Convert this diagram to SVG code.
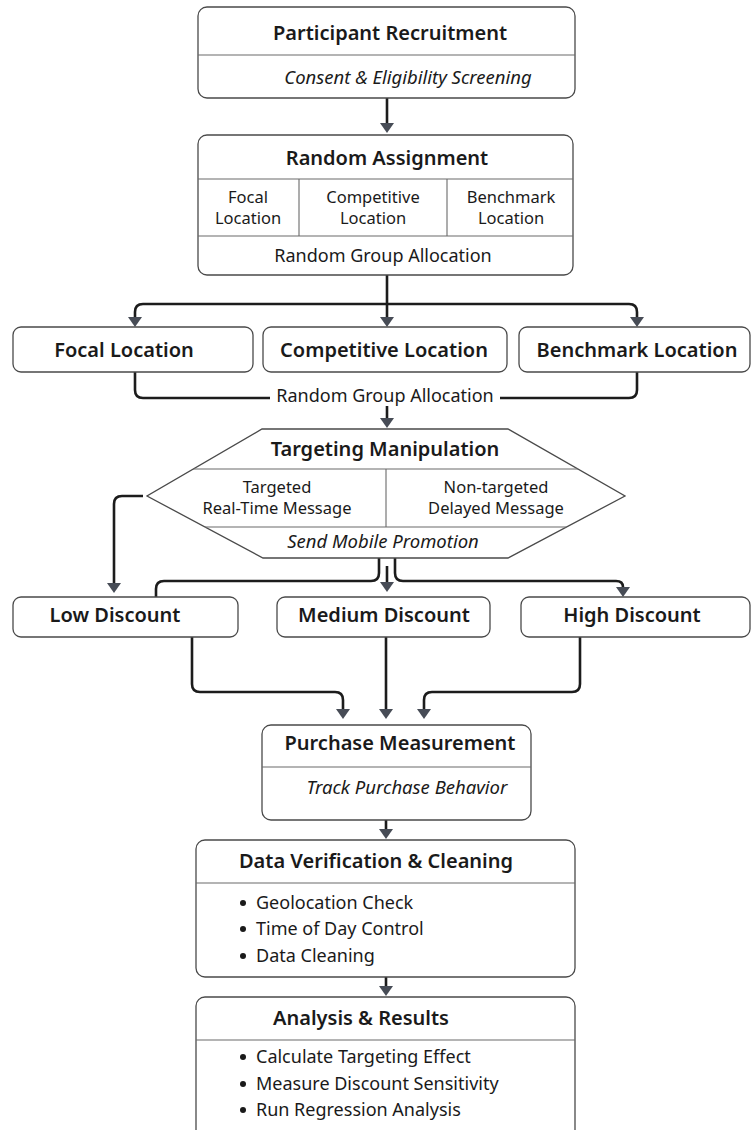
<svg xmlns="http://www.w3.org/2000/svg" width="751" height="1130" viewBox="0 0 751 1130">
<defs>
<marker id="ah" viewBox="0 0 10 14" refX="0" refY="7" markerWidth="10" markerHeight="14" markerUnits="userSpaceOnUse" orient="auto">
<path d="M0,0 L10,7 L0,14 z" fill="#474c56"/>
</marker>
<style>
.box{fill:#ffffff;stroke:#4a4a4a;stroke-width:1.3}
.div{fill:none;stroke:#6a6a6a;stroke-width:1.1}
.con{fill:none;stroke:#1c1c1c;stroke-width:2.6}
.arr{fill:none;stroke:#1c1c1c;stroke-width:2.6;marker-end:url(#ah)}
text{font-family:"Noto Sans","Open Sans","DejaVu Sans",sans-serif;fill:#1a1a1a}
.t{font-size:20px;font-weight:600;text-anchor:middle}
.b{font-size:18px;text-anchor:middle}
.c{font-size:16.5px;text-anchor:middle}
.i{font-size:18.5px;font-style:italic;text-anchor:middle}
.l{font-size:18px}
.dot{fill:#1a1a1a}
</style>
</defs>
<rect width="751" height="1130" fill="#ffffff"/>

<g id="connectors">
<path class="arr" d="M387,98 V123"/>
<path class="con" d="M387,275 V304"/>
<path class="arr" d="M143,304 Q135,304 135,312 V317"/>
<path class="con" d="M143,304 H629"/>
<path class="arr" d="M629,304 Q637,304 637,312 V317"/>
<path class="arr" d="M387,304 V317"/>
<path class="con" d="M135,372 V390 Q135,398 143,398 H270"/>
<path class="con" d="M637,372 V390 Q637,398 629,398 H500"/>
<path class="arr" d="M387,406 V418"/>
<path class="arr" d="M143,496 H122 Q114,496 114,504 V583"/>
<path class="con" d="M379,558 V573 Q379,581 371,581 H164 Q156,581 156,589 V597"/>
<path class="arr" d="M395,558 V573 Q395,581 403,581 H616 Q623,581 623,587"/>
<path class="arr" d="M387,566 V582"/>
<path class="arr" d="M192,637 V684 Q192,692 200,692 H335 Q343,692 343,700 V709"/>
<path class="arr" d="M386,637 V709"/>
<path class="arr" d="M580,637 V684 Q580,692 572,692 H432 Q424,692 424,700 V709"/>
<path class="arr" d="M386,820 V829"/>
<path class="arr" d="M386,977 V986"/>
</g>

<g id="participant-recruitment">
<rect class="box" x="198" y="7" width="377" height="91" rx="9"/>
<line class="div" x1="198" y1="55" x2="575" y2="55"/>
<text class="t" x="390" y="40">Participant Recruitment</text>
<text class="i" x="408" y="84">Consent &amp; Eligibility Screening</text>
</g>

<g id="random-assignment">
<rect class="box" x="198" y="135" width="375" height="140" rx="9"/>
<line class="div" x1="198" y1="179" x2="573" y2="179"/>
<line class="div" x1="198" y1="236" x2="573" y2="236"/>
<line class="div" x1="299" y1="179" x2="299" y2="236"/>
<line class="div" x1="447" y1="179" x2="447" y2="236"/>
<text class="t" x="387" y="165">Random Assignment</text>
<text class="c" x="248" y="203">Focal<tspan x="248" dy="21">Location</tspan></text>
<text class="c" x="373" y="203">Competitive<tspan x="373" dy="21">Location</tspan></text>
<text class="c" x="511" y="203">Benchmark<tspan x="511" dy="21">Location</tspan></text>
<text class="b" x="383" y="262">Random Group Allocation</text>
</g>

<g id="focal-location">
<rect class="box" x="13" y="327" width="240" height="45" rx="8"/>
<text class="t" x="124" y="357">Focal Location</text>
</g>
<g id="competitive-location">
<rect class="box" x="263" y="327" width="244" height="45" rx="8"/>
<text class="t" x="384" y="357">Competitive Location</text>
</g>
<g id="benchmark-location">
<rect class="box" x="519" y="327" width="231" height="45" rx="8"/>
<text class="t" x="637" y="357">Benchmark Location</text>
</g>

<g id="allocation-label">
<text class="b" x="385" y="402">Random Group Allocation</text>
</g>

<g id="targeting-manipulation">
<polygon class="box" points="262,429 508,429 625,496 508,558 263,558 147,496"/>
<line class="div" x1="193" y1="469" x2="578" y2="469"/>
<line class="div" x1="205" y1="527" x2="566" y2="527"/>
<line class="div" x1="386" y1="469" x2="386" y2="527"/>
<text class="t" x="385" y="456">Targeting Manipulation</text>
<text class="c" x="277" y="493">Targeted<tspan x="277" dy="21">Real-Time Message</tspan></text>
<text class="c" x="496" y="493">Non-targeted<tspan x="496" dy="21">Delayed Message</tspan></text>
<text class="i" x="383" y="548">Send Mobile Promotion</text>
</g>

<g id="low-discount">
<rect class="box" x="13" y="597" width="225" height="40" rx="8"/>
<text class="t" x="115" y="622">Low Discount</text>
</g>
<g id="medium-discount">
<rect class="box" x="277" y="597" width="213" height="40" rx="8"/>
<text class="t" x="384" y="622">Medium Discount</text>
</g>
<g id="high-discount">
<rect class="box" x="521" y="597" width="229" height="40" rx="8"/>
<text class="t" x="632" y="622">High Discount</text>
</g>

<g id="purchase-measurement">
<rect class="box" x="262" y="725" width="269" height="95" rx="9"/>
<line class="div" x1="262" y1="767" x2="531" y2="767"/>
<text class="t" x="400" y="750">Purchase Measurement</text>
<text class="i" x="407" y="794">Track Purchase Behavior</text>
</g>

<g id="data-verification">
<rect class="box" x="196" y="840" width="379" height="137" rx="9"/>
<line class="div" x1="196" y1="883" x2="575" y2="883"/>
<text class="t" x="376" y="868">Data Verification &amp; Cleaning</text>
<circle class="dot" cx="243" cy="903" r="3"/>
<text class="l" x="256" y="909">Geolocation Check</text>
<circle class="dot" cx="243" cy="929" r="3"/>
<text class="l" x="256" y="935">Time of Day Control</text>
<circle class="dot" cx="243" cy="956" r="3"/>
<text class="l" x="256" y="962">Data Cleaning</text>
</g>

<g id="analysis-results">
<rect class="box" x="196" y="997" width="379" height="150" rx="9"/>
<line class="div" x1="196" y1="1040" x2="575" y2="1040"/>
<text class="t" x="361" y="1025">Analysis &amp; Results</text>
<circle class="dot" cx="243" cy="1057" r="3"/>
<text class="l" x="256" y="1063">Calculate Targeting Effect</text>
<circle class="dot" cx="243" cy="1084" r="3"/>
<text class="l" x="256" y="1090">Measure Discount Sensitivity</text>
<circle class="dot" cx="243" cy="1110" r="3"/>
<text class="l" x="256" y="1116">Run Regression Analysis</text>
</g>
</svg>
